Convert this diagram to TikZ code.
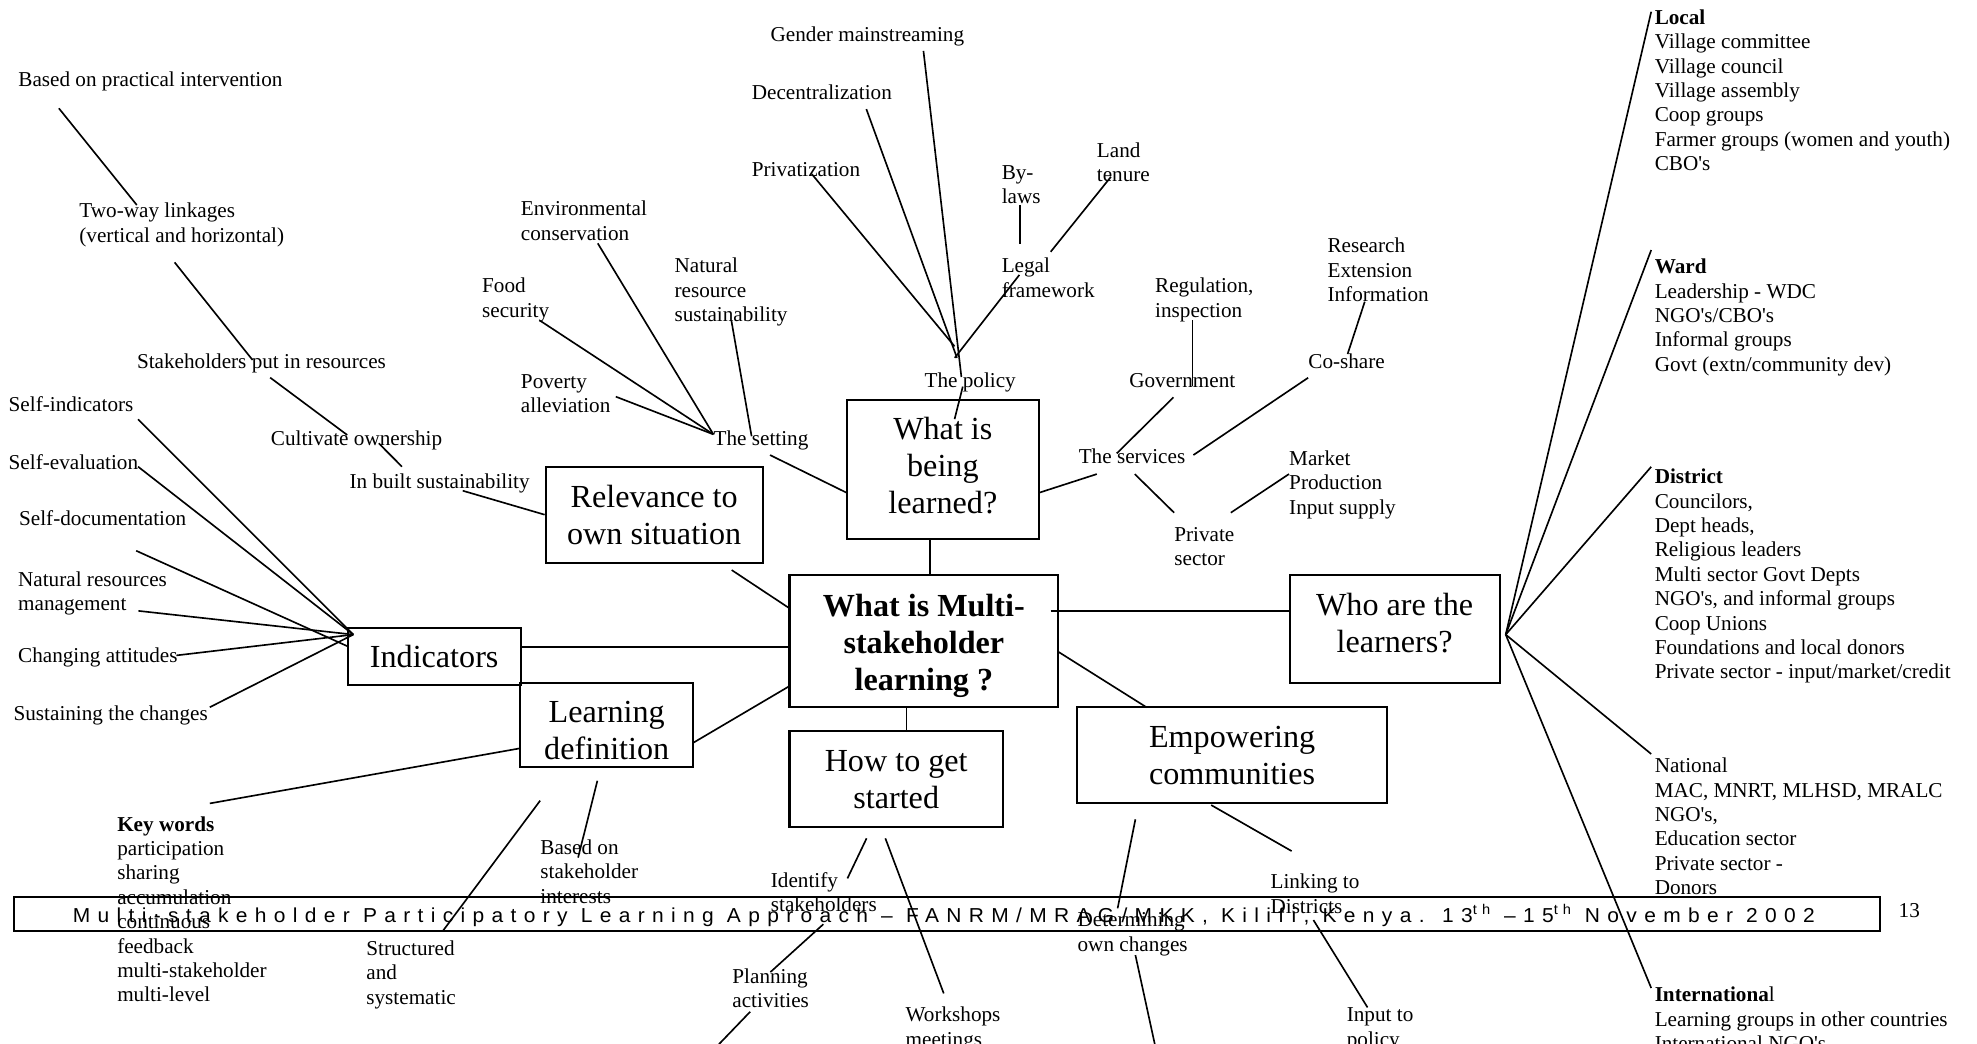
\documentclass[tikz,border=0pt]{standalone}
\usepackage{graphicx}
\usepackage{fontspec}
\setmainfont{Liberation Serif}
\newfontfamily\footfont[LetterSpace=35]{Liberation Sans}
\newcommand\fs{\fontsize{16.8pt}{19.35pt}\selectfont}
\newcommand\fb{\fontsize{25.5pt}{29.2pt}\selectfont}
\newcommand\ml[1]{\begin{tabular}[t]{@{}l@{}}#1\end{tabular}}
\newcommand\bt[2][3pt]{\raisebox{-#1}[\height][\depth]{\begin{tabular}{@{}c@{}}#2\end{tabular}}}
\newcommand\aq{\textquotesingle}
\tikzset{
  lbl/.style={anchor=base west, inner sep=0pt, font=\fs},
  bx/.style={draw, line width=1.7pt, inner sep=0pt, font=\fb},
  ln/.style={line width=1.3pt},
}
\begin{document}
\begin{tikzpicture}[x=1pt, y=-1pt]
\useasboundingbox (0,0) rectangle (1568,828);

% ---------- boxes ----------
\node[bx, minimum width=152.6pt, minimum height=110.2pt] (learned) at (747.8,372.3) {\bt[0pt]{What is\\being\\learned?}};
\node[bx, minimum width=172.1pt, minimum height=76.2pt] (relev) at (518.85,408.2) {\bt[3pt]{Relevance to\\own situation}};
\node[bx, minimum width=137.3pt, minimum height=45.5pt] (ind) at (344.35,520.55) {\bt[3pt]{Indicators}};
\node[bx, minimum width=137.4pt, minimum height=67.1pt] (ldef) at (481.2,575.05) {\bt[7pt]{Learning\\definition}};
\node[bx, font=\fb\bfseries, minimum width=213.1pt, minimum height=105pt] (main) at (732.75,508.5) {\bt[4pt]{What is Multi-\\stakeholder\\learning ?}};
\node[bx, minimum width=169.2pt, minimum height=76.2pt] (how) at (710.8,617.6) {\bt[3pt]{How to get\\started}};
\node[bx, minimum width=166.7pt, minimum height=85.4pt] (who) at (1106.15,498.8) {\bt[-1.65pt]{Who are the\\learners?}};
\node[bx, minimum width=245.4pt, minimum height=76pt] (emp) at (977.2,599) {\bt[2.5pt]{Empowering\\communities}};

% ---------- labels ----------
\node[lbl] (bpi) at (14.4,68.4) {Based on practical intervention};
\node[lbl] (twl) at (62.8,172.6) {\ml{Two-way linkages\\(vertical and horizontal)}};
\node[lbl] (spr) at (108.5,292.4) {Stakeholders put in resources};
\node[lbl] (cow) at (214.7,353.2) {Cultivate ownership};
\node[lbl] (ibs) at (277.1,387.5) {In built sustainability};
\node[lbl] (sind) at (6.7,326.7) {Self-indicators};
\node[lbl] (seval) at (6.7,372.5) {Self-evaluation};
\node[lbl] (sdoc) at (15,416.5) {Self-documentation};
\node[lbl] (nrm) at (14.2,465.1) {\ml{Natural resources\\management}};
\node[lbl] (chat) at (14.2,525.3) {Changing attitudes};
\node[lbl] (stc) at (10.6,571.2) {Sustaining the changes};
\node[lbl] (kw) at (92.8,659.1) {\ml{\textbf{Key words}\\participation\\sharing\\accumulation\\continuous\\feedback\\multi-stakeholder\\multi-level}};
\node[lbl] (sas) at (290.4,757.7) {\ml{Structured\\and\\systematic}};
\node[lbl] (bsi) at (428.4,677.7) {\ml{Based on\\stakeholder\\interests}};
\node[lbl] (env) at (413,171.3) {\ml{Environmental\\conservation}};
\node[lbl] (food) at (382.2,232.1) {\ml{Food\\security}};
\node[lbl] (pov) at (413,308.2) {\ml{Poverty\\alleviation}};
\node[lbl] (nrs) at (534.8,216.5) {\ml{Natural\\resource\\sustainability}};
\node[lbl] (sett) at (565.8,353.7) {The setting};
\node[lbl] (gen) at (611,32.8) {Gender mainstreaming};
\node[lbl] (dec) at (596.1,79) {Decentralization};
\node[lbl] (priv) at (596.1,139.7) {Privatization};
\node[lbl] (byl) at (794.3,142.1) {\ml{By-\\laws}};
\node[lbl] (land) at (869.8,124.8) {\ml{Land\\tenure}};
\node[lbl] (legal) at (794.3,216.5) {\ml{Legal\\framework}};
\node[lbl] (pol) at (733.1,307.5) {The policy};
\node[lbl] (reg) at (916,232.3) {\ml{Regulation,\\inspection}};
\node[lbl] (gov) at (895.5,307.7) {Government};
\node[lbl] (rei) at (1052.7,200.6) {\ml{Research\\Extension\\Information}};
\node[lbl] (cosh) at (1037.5,292.3) {Co-share};
\node[lbl] (svc) at (855.4,367.7) {The services};
\node[lbl] (psec) at (931.2,429.3) {\ml{Private\\sector}};
\node[lbl] (mpi) at (1022.3,369) {\ml{Market\\Production\\Input supply}};
\node[lbl] (ids) at (611.2,703.5) {\ml{Identify\\stakeholders}};
\node[lbl] (pla) at (580.7,780.1) {\ml{Planning\\activities}};
\node[lbl] (wsm) at (718.1,810.5) {\ml{Workshops\\meetings}};
\node[lbl] (det) at (854.5,735.2) {\ml{Determining\\own changes}};
\node[lbl] (ltd) at (1007.5,704.8) {\ml{Linking to\\Districts}};
\node[lbl] (itp) at (1068,810.5) {\ml{Input to\\policy}};
\node[lbl] (loc) at (1312.2,19.2) {\ml{\textbf{Local}\\Village committee\\Village council\\Village assembly\\Coop groups\\Farmer groups (women and youth)\\CBO\aq s}};
\node[lbl] (ward) at (1312.2,217) {\ml{\textbf{Ward}\\Leadership - WDC\\NGO\aq s/CBO\aq s\\Informal groups\\Govt (extn/community dev)}};
\node[lbl] (dist) at (1312.2,383.6) {\ml{\textbf{District}\\Councilors,\\Dept heads,\\Religious leaders\\Multi sector Govt Depts\\NGO\aq s, and informal groups\\Coop Unions\\Foundations and local donors\\Private sector - input/market/credit}};
\node[lbl] (nat) at (1312.2,612.8) {\ml{National\\MAC, MNRT, MLHSD, MRALC\\NGO\aq s,\\Education sector\\Private sector -\\Donors}};
\node[lbl] (intl) at (1312.2,794.4) {\ml{\textbf{Internationa}l\\Learning groups in other countries\\International NGO\aq s}};
\node[lbl] (pg) at (1505.7,728) {13};

% ---------- footer ----------
\node[draw, line width=1.7pt, inner sep=0pt, minimum width=1480pt, minimum height=27.3pt] (foot) at (751,724.85) {};
\node[anchor=base west, inner sep=0pt] (foottext) at (57.6,731.5) {\resizebox{1381.6pt}{\height}{\footfont\fontsize{16pt}{19pt}\selectfont Multi-stakeholder Participatory Learning Approach – FANRM/MRAG/MKK, Kilifi, Kenya. 13\textsuperscript{th} –15\textsuperscript{th} November 2002}};

% ---------- connector end points ----------
\coordinate (a1) at (46.7,85.9);   \coordinate (a2) at (108.5,162.6);
\coordinate (b1) at (138.5,208.1); \coordinate (b2) at (200.3,285.5);
\coordinate (d1) at (214.3,299.5); \coordinate (d2) at (275.4,345);
\coordinate (g1) at (300.4,351.6); \coordinate (g2) at (318.8,370.1);
\coordinate (ib) at (367,389.2);
\coordinate (rv) at (580.3,452.1); \coordinate (mnl) at (626.2,482.5);
\coordinate (hubI) at (280.2,503.3);
\coordinate (f1) at (109.5,332.6); \coordinate (f2) at (109.5,370.1);
\coordinate (f3) at (108,436.8);   \coordinate (f3e) at (275.7,512.6);
\coordinate (f4) at (109.8,484.5); \coordinate (f5) at (139.9,519.8);
\coordinate (f6) at (166.4,560.9);
\coordinate (ir) at (413,512.9);   \coordinate (ml1) at (626.2,512.9);
\coordinate (lr) at (550,589);     \coordinate (ml2) at (626.2,544.1);
\coordinate (k1) at (166.4,637.2); \coordinate (k2) at (412.5,593.5);
\coordinate (t1) at (428.4,635);   \coordinate (t2) at (351.5,738);
\coordinate (u1) at (473.8,619.2); \coordinate (u2) at (458.5,680.2);
\coordinate (hubS) at (565.8,344.5);
\coordinate (s1) at (474.1,193);   \coordinate (s2) at (428.3,254.3);
\coordinate (s3) at (488.4,314.6); \coordinate (s4) at (580.1,254.4);
\coordinate (s4e) at (596.1,346);
\coordinate (st1) at (610.7,360.9); \coordinate (st2) at (671.5,390.8);
\coordinate (p1) at (732.4,40.4);  \coordinate (p1e) at (762.5,299);
\coordinate (p2) at (687.1,86.5);  \coordinate (p2e) at (759,283.8);
\coordinate (p3) at (643.9,138.1); \coordinate (p3e) at (757.1,274.7);
\coordinate (p4) at (808.5,218);   \coordinate (p4e) at (757.2,283.8);
\coordinate (p5) at (808.9,162.5); \coordinate (p5e) at (808.9,193.5);
\coordinate (p6) at (881.1,140.2); \coordinate (p6e) at (833.3,199.7);
\coordinate (p7) at (763.6,306.6); \coordinate (p7e) at (757.1,332.4);
\coordinate (lb) at (737.7,427.4); \coordinate (mt) at (737.7,456);
\coordinate (v1) at (945.8,253.8); \coordinate (v1e) at (945.8,306);
\coordinate (v2) at (930.7,315.1); \coordinate (v2e) at (885.7,359.6);
\coordinate (v3) at (1082.4,239.3); \coordinate (v3e) at (1068.8,280.8);
\coordinate (v4) at (1037.5,299.6); \coordinate (v4e) at (946.5,360.9);
\coordinate (v5) at (869.9,376);   \coordinate (v5e) at (824.1,390.8);
\coordinate (v6) at (900,376);     \coordinate (v6e) at (931.2,406.6);
\coordinate (v7) at (976.2,406.6); \coordinate (v7e) at (1022.3,376);
\coordinate (mw1) at (833.3,484.6); \coordinate (mw2) at (1022.8,484.6);
\coordinate (me1) at (839.3,516.9); \coordinate (me2) at (909.4,561);
\coordinate (mh1) at (718.9,561);  \coordinate (mh2) at (718.9,579.5);
\coordinate (h1) at (687.3,664.9); \coordinate (h1e) at (672.1,696.7);
\coordinate (h2) at (702.2,664.9); \coordinate (h2e) at (748.5,787.9);
\coordinate (h3) at (653,733);     \coordinate (h3e) at (611,771);
\coordinate (h4) at (595,802.4);   \coordinate (h4e) at (567.5,831);
\coordinate (e1) at (900.5,649.8); \coordinate (e1e) at (886.4,720.4);
\coordinate (e2) at (900.5,757.5); \coordinate (e2e) at (916.5,831);
\coordinate (e3) at (960.6,638.5); \coordinate (e3e) at (1024.4,675);
\coordinate (e4) at (1041.7,729.7); \coordinate (e4e) at (1084.6,799);
\coordinate (hubW) at (1194.2,503.3);
\coordinate (w1) at (1309.6,9.3);   \coordinate (w2) at (1309.6,198.3);
\coordinate (w3) at (1309.6,370.2); \coordinate (w4) at (1309.6,598);
\coordinate (w5) at (1309.6,783.6);

% ---------- connectors ----------
\draw[ln] (a1) -- (a2);
\draw[ln] (b1) -- (b2);
\draw[ln] (d1) -- (d2);
\draw[ln] (g1) -- (g2);
\draw[ln] (ib) -- (relev.west);
\draw[ln] (rv) -- (mnl);
\draw[ln] (f1) -- (hubI);
\draw[ln] (f2) -- (hubI);
\draw[ln] (f3) -- (f3e);
\draw[ln] (f4) -- (hubI);
\draw[ln] (f5) -- (hubI);
\draw[ln] (f6) -- (hubI);
\draw[ln] (ir) -- (ml1);
\draw[ln] (lr) -- (ml2);
\draw[ln] (k1) -- (k2);
\draw[ln] (t1) -- (t2);
\draw[ln] (u1) -- (u2);
\draw[ln] (s1) -- (hubS);
\draw[ln] (s2) -- (hubS);
\draw[ln] (s3) -- (hubS);
\draw[ln] (s4) -- (s4e);
\draw[ln] (st1) -- (st2);
\draw[ln] (p1) -- (p1e);
\draw[ln] (p2) -- (p2e);
\draw[ln] (p3) -- (p3e);
\draw[ln] (p4) -- (p4e);
\draw[ln] (p5) -- (p5e);
\draw[ln] (p6) -- (p6e);
\draw[ln] (p7) -- (p7e);
\draw[ln] (lb) -- (mt);
\draw[ln] (v1) -- (v1e);
\draw[ln] (v2) -- (v2e);
\draw[ln] (v3) -- (v3e);
\draw[ln] (v4) -- (v4e);
\draw[ln] (v5) -- (v5e);
\draw[ln] (v6) -- (v6e);
\draw[ln] (v7) -- (v7e);
\draw[ln] (mw1) -- (mw2);
\draw[ln] (me1) -- (me2);
\draw[ln] (mh1) -- (mh2);
\draw[ln] (h1) -- (h1e);
\draw[ln] (h2) -- (h2e);
\draw[ln] (h3) -- (h3e);
\draw[ln] (h4) -- (h4e);
\draw[ln] (e1) -- (e1e);
\draw[ln] (e2) -- (e2e);
\draw[ln] (e3) -- (e3e);
\draw[ln] (e4) -- (e4e);
\draw[ln] (hubW) -- (w1);
\draw[ln] (hubW) -- (w2);
\draw[ln] (hubW) -- (w3);
\draw[ln] (hubW) -- (w4);
\draw[ln] (hubW) -- (w5);
\end{tikzpicture}
\end{document}
